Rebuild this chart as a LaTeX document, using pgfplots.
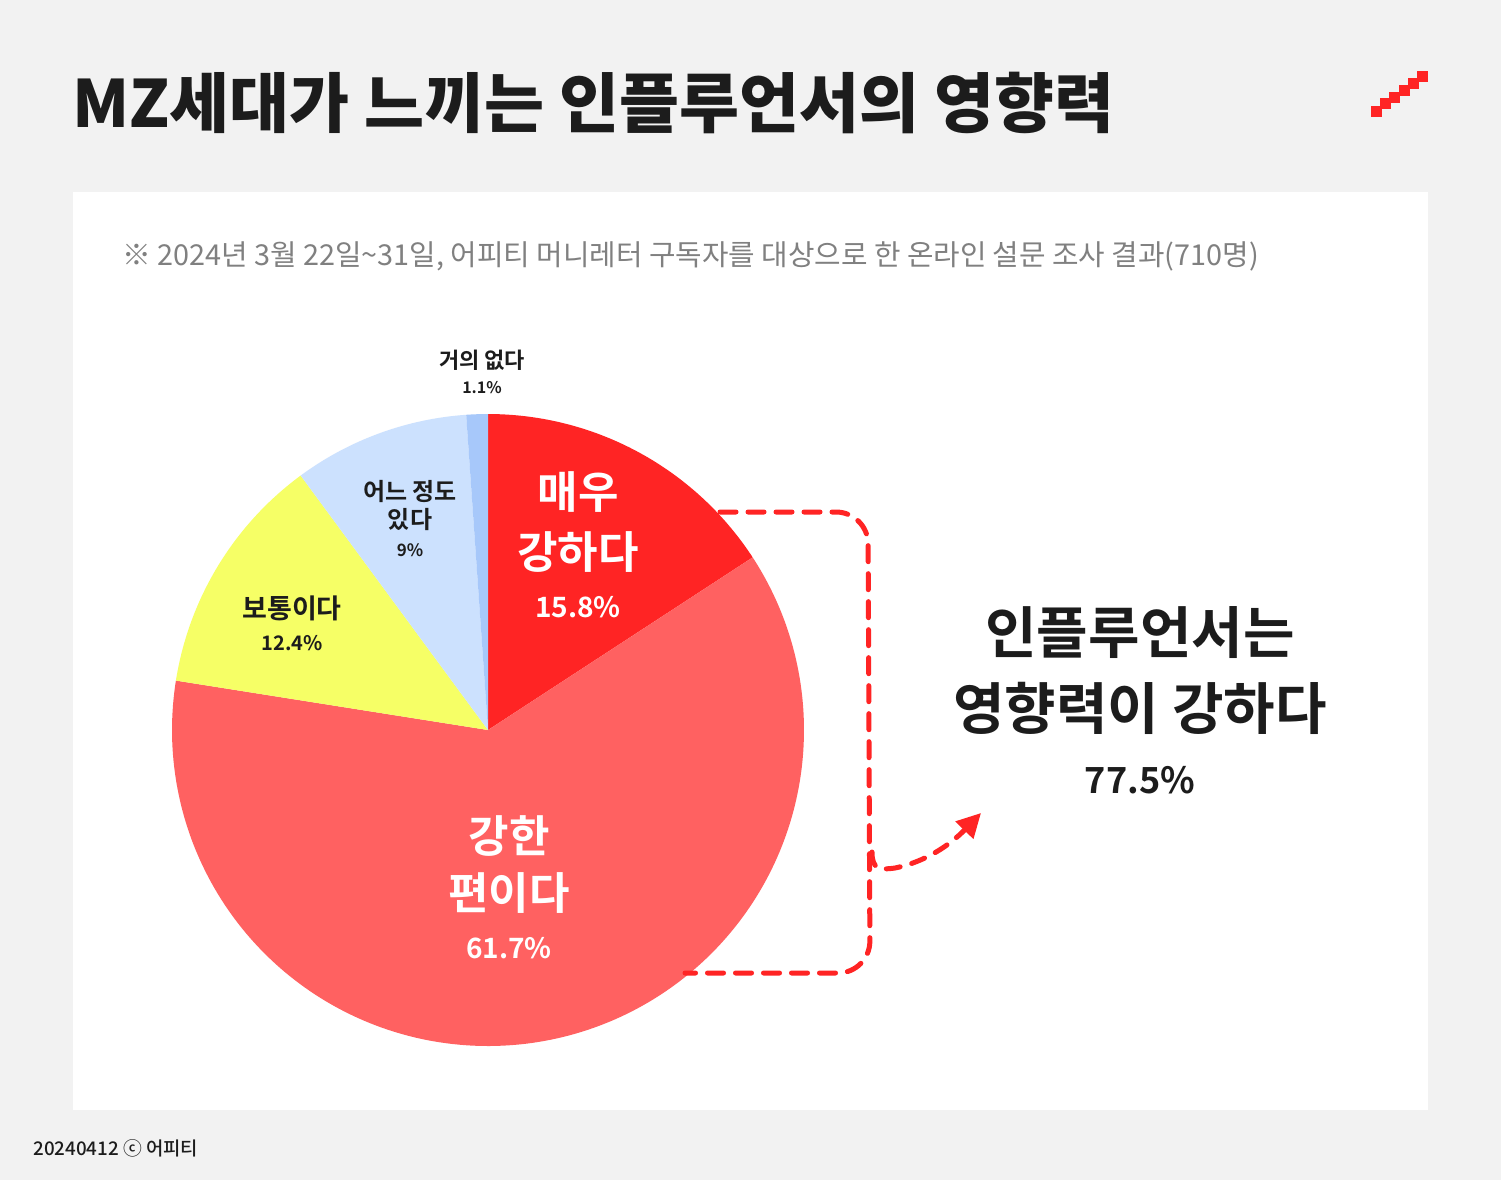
\documentclass[border=0pt]{standalone}
\usepackage{pgfplots}
\pgfplotsset{compat=1.18}
\usepackage{fontspec}
\usetikzlibrary{arrows.meta}
\setmainfont{Noto Sans CJK KR}
\newfontfamily\krblack{Noto Sans CJK KR Black}
\newfontfamily\krbold{Noto Sans CJK KR Bold}
\newfontfamily\krmed{Noto Sans CJK KR Medium}
\definecolor{bg}{HTML}{F2F2F2}
\definecolor{ink}{HTML}{1C1C1C}
\definecolor{sub}{HTML}{808080}
\definecolor{cA}{HTML}{FF2424}
\definecolor{cB}{HTML}{FF6161}
\definecolor{cC}{HTML}{F6FF66}
\definecolor{cD}{HTML}{CCE1FE}
\definecolor{cE}{HTML}{A7C8FA}
\newcommand{\fs}[1]{\fontsize{#1pt}{#1pt}\selectfont}
\begin{document}
\begin{tikzpicture}[x=0.5pt,y=-0.5pt]
% background and panel
\fill[bg] (0,0) rectangle (1501,1180);
\fill[white] (73,192) rectangle (1428,1110);
% title
\node[anchor=west,text=ink,inner sep=0pt] at (72,103) {\krblack\fs{32.6}MZ세대가 느끼는 인플루언서의 영향력};
% logo
\foreach \i/\xx/\yy in {0/1371/106,1/1380/98,2/1389/92,3/1399/85,4/1408/78,5/1417/71}
  \fill[cA] (\xx,\yy) rectangle ++(11,11);
% subtitle
\node[anchor=west,text=sub,inner sep=0pt] at (122,256) {\fs{14.4}※ 2024년 3월 22일\char"007E 31일, 어피티 머니레터 구독자를 대상으로 한 온라인 설문 조사 결과(710명)};
% footer
\node[anchor=west,text=ink,inner sep=0pt] at (33,1148) {\krmed\fs{9.4}20240412 ⓒ 어피티};
\begin{axis}[at={(0pt,-590pt)},anchor=south west,scale only axis,
  width=750.5pt,height=590pt,xmin=0,xmax=1501,ymin=0,ymax=1180,
  y dir=reverse,axis lines=none,clip=false]
% shares (percent), clockwise from 12 o'clock:
% 매우 강하다 15.8, 강한 편이다 61.7, 보통이다 12.4, 어느 정도 있다 9, 거의 없다 1.1
\addplot[fill=cA,draw=none,domain={90-3.6*15.8}:90,samples=80] ({488+316*cos(x)},{730-316*sin(x)}) -- (axis cs:488,730) -- cycle;
\addplot[fill=cB,draw=none,domain={90-3.6*(15.8+61.7)}:{90-3.6*15.8},samples=200] ({488+316*cos(x)},{730-316*sin(x)}) -- (axis cs:488,730) -- cycle;
\addplot[fill=cC,draw=none,domain={90-3.6*(15.8+61.7+12.4)}:{90-3.6*(15.8+61.7)},samples=60] ({488+316*cos(x)},{730-316*sin(x)}) -- (axis cs:488,730) -- cycle;
\addplot[fill=cD,draw=none,domain={90-3.6*(15.8+61.7+12.4+9)}:{90-3.6*(15.8+61.7+12.4)},samples=50] ({488+316*cos(x)},{730-316*sin(x)}) -- (axis cs:488,730) -- cycle;
\addplot[fill=cE,draw=none,domain={90-3.6*(15.8+61.7+12.4+9+1.1)}:{90-3.6*(15.8+61.7+12.4+9)},samples=10] ({488+316*cos(x)},{730-316*sin(x)}) -- (axis cs:488,730) -- cycle;
\end{axis}
% slice labels
\node[text=ink,inner sep=0pt] at (482,360) {\krbold\fs{11}거의 없다};
\node[text=ink,inner sep=0pt] at (482,388) {\krbold\fs{8}1.1\%};
\node[text=ink,inner sep=0pt] at (410,492) {\krbold\fs{12}어느 정도};
\node[text=ink,inner sep=0pt] at (410,520) {\krbold\fs{12}있다};
\node[text=ink,inner sep=0pt] at (410,550) {\krbold\fs{8.5}9\%};
\node[text=white,inner sep=0pt] at (578,492) {\krbold\fs{22}매우};
\node[text=white,inner sep=0pt] at (578,552) {\krbold\fs{22}강하다};
\node[text=white,inner sep=0pt] at (578,607) {\krbold\fs{14}15.8\%};
\node[text=ink,inner sep=0pt] at (292,608) {\krbold\fs{13.5}보통이다};
\node[text=ink,inner sep=0pt] at (292,643) {\krbold\fs{10}12.4\%};
\node[text=white,inner sep=0pt] at (509,836) {\krbold\fs{22}강한};
\node[text=white,inner sep=0pt] at (509,893) {\krbold\fs{22}편이다};
\node[text=white,inner sep=0pt] at (509,948) {\krbold\fs{14}61.7\%};
% right annotation
\node[text=ink,inner sep=0pt] at (1140,633) {\krbold\fs{28}인플루언서는};
\node[text=ink,inner sep=0pt] at (1140,708) {\krbold\fs{28}영향력이 강하다};
\node[text=ink,inner sep=0pt] at (1140,780) {\krbold\fs{18}77.5\%};
% dashed bracket
\draw[cA,line width=2.5pt,dash pattern=on 8pt off 6pt,rounded corners=16pt,line cap=round]
  (720,512) -- (868,512) -- (870,973) -- (685,973);
\draw[cA,line width=2.5pt,dash pattern=on 7pt off 6pt,line cap=round,-{Triangle[length=12pt,width=12pt]}]
  (872,852) .. controls (872,870) and (880,870) .. (895,868) .. controls (925,862) and (950,845) .. (981,813);
\end{tikzpicture}
\end{document}
